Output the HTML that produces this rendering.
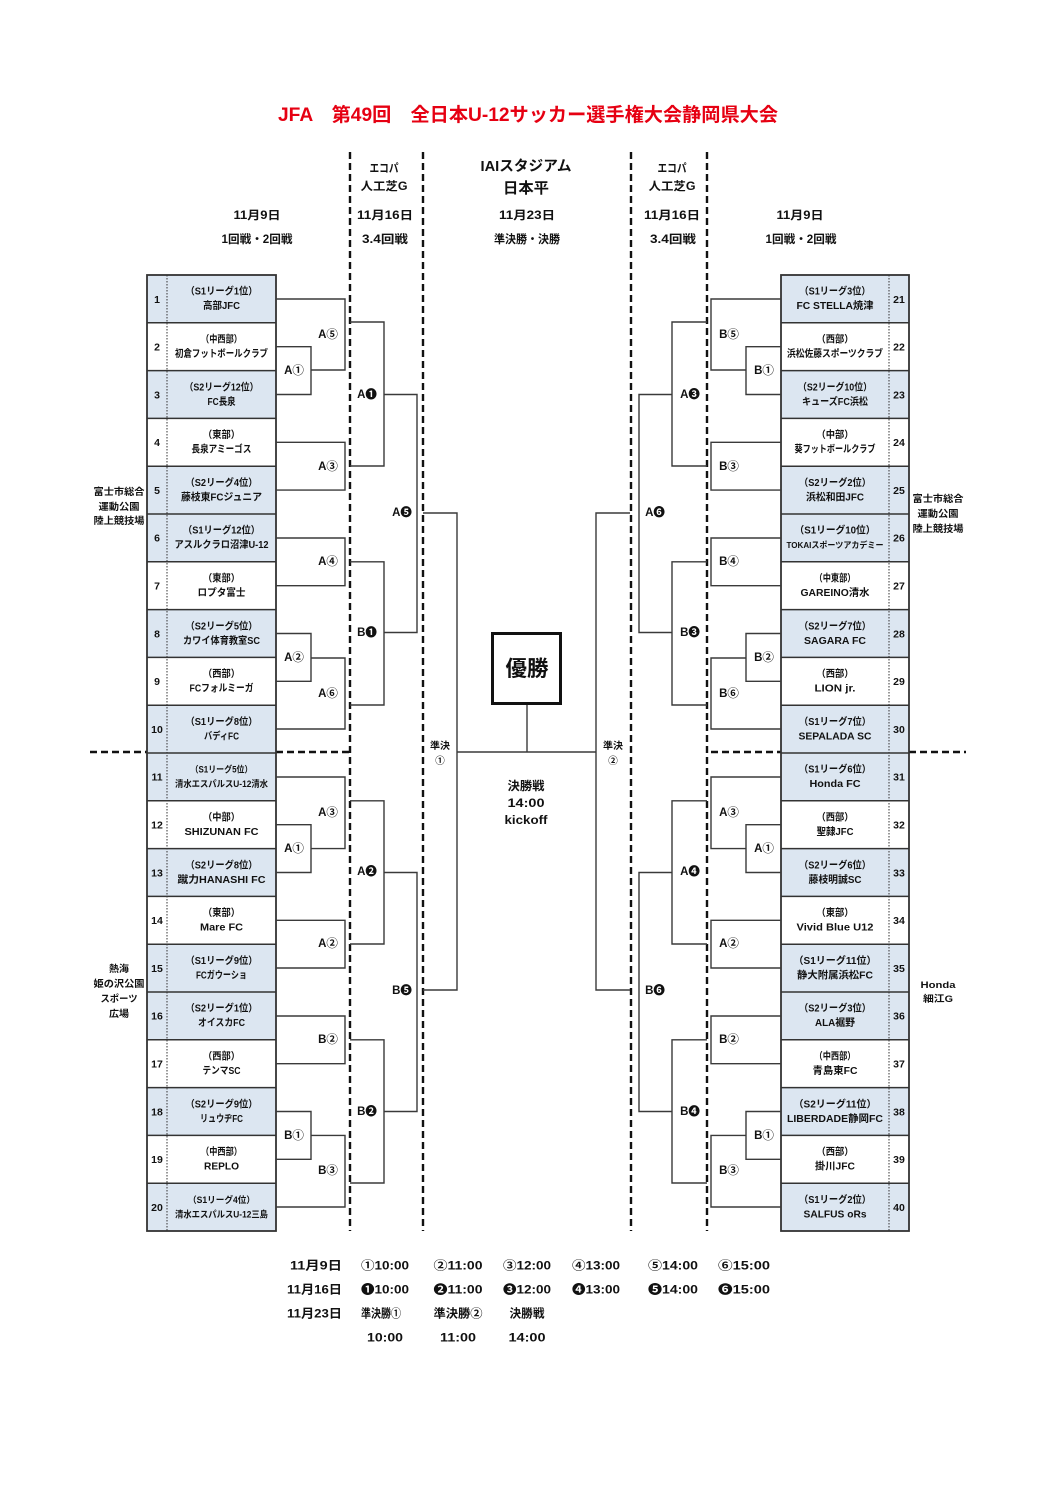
<!DOCTYPE html>
<html><head><meta charset="utf-8"><style>
html,body{margin:0;padding:0;background:#fff;}
svg{display:block;}
text{font-family:"Liberation Sans","Noto Sans CJK JP",sans-serif;font-weight:bold;fill:#111;}
.t{font-size:10px;text-anchor:middle;}
.n{font-size:10.5px;text-anchor:middle;}
.lb{font-size:11.5px;text-anchor:middle;}
.h{font-size:11.5px;text-anchor:middle;}
.v{font-size:9.5px;text-anchor:middle;}
.s{font-size:12px;text-anchor:middle;}
.br{fill:none;stroke:#3a3a3a;stroke-width:1.4;}
.dv{stroke:#111;stroke-width:2.4;stroke-dasharray:7,4;fill:none;}
</style></head><body>
<svg width="1058" height="1497" viewBox="0 0 1058 1497" xmlns="http://www.w3.org/2000/svg">
<rect width="1058" height="1497" fill="#fff"/>
<!-- Title -->
<text x="528" y="121" style="font-size:19px;fill:#e60012;text-anchor:middle" textLength="500" lengthAdjust="spacingAndGlyphs">JFA　第49回　全日本U-12サッカー選手権大会静岡県大会</text>

<!-- Header -->
<text class="h" x="257" y="219" textLength="47" lengthAdjust="spacingAndGlyphs">11月9日</text>
<text class="h" x="257" y="243" textLength="71" lengthAdjust="spacingAndGlyphs">1回戦・2回戦</text>
<text class="h" x="384" y="172" textLength="29" lengthAdjust="spacingAndGlyphs">エコパ</text>
<text class="h" x="384" y="190" textLength="47" lengthAdjust="spacingAndGlyphs">人工芝G</text>
<text class="h" x="385" y="219" textLength="56" lengthAdjust="spacingAndGlyphs">11月16日</text>
<text class="h" x="385" y="243" textLength="46" lengthAdjust="spacingAndGlyphs">3.4回戦</text>
<text x="526" y="171" style="font-size:14.5px;text-anchor:middle" textLength="91" lengthAdjust="spacingAndGlyphs">IAIスタジアム</text>
<text x="526" y="193" style="font-size:15px;text-anchor:middle" textLength="46" lengthAdjust="spacingAndGlyphs">日本平</text>
<text class="h" x="527" y="219" textLength="56" lengthAdjust="spacingAndGlyphs">11月23日</text>
<text class="h" x="527" y="243" textLength="66" lengthAdjust="spacingAndGlyphs">準決勝・決勝</text>
<text class="h" x="672" y="172" textLength="29" lengthAdjust="spacingAndGlyphs">エコパ</text>
<text class="h" x="672" y="190" textLength="47" lengthAdjust="spacingAndGlyphs">人工芝G</text>
<text class="h" x="672" y="219" textLength="56" lengthAdjust="spacingAndGlyphs">11月16日</text>
<text class="h" x="673" y="243" textLength="46" lengthAdjust="spacingAndGlyphs">3.4回戦</text>
<text class="h" x="800" y="219" textLength="47" lengthAdjust="spacingAndGlyphs">11月9日</text>
<text class="h" x="801" y="243" textLength="71" lengthAdjust="spacingAndGlyphs">1回戦・2回戦</text>

<!-- Dashed vertical lines -->
<line class="dv" x1="350" y1="152" x2="350" y2="1231"/>
<line class="dv" x1="423" y1="152" x2="423" y2="1231"/>
<line class="dv" x1="631" y1="152" x2="631" y2="1231"/>
<line class="dv" x1="707" y1="152" x2="707" y2="1231"/>
<!-- Dashed horizontal -->
<line class="dv" x1="90" y1="752" x2="147" y2="752"/>
<line class="dv" x1="276" y1="752" x2="350" y2="752"/>
<line class="dv" x1="711" y1="752" x2="781" y2="752"/>
<line class="dv" x1="909" y1="752" x2="966" y2="752"/>

<!-- Left table fills -->
<g fill="#dce6f1">
<rect x="147" y="275" width="129" height="47.8"/>
<rect x="147" y="370.6" width="129" height="47.8"/>
<rect x="147" y="466.2" width="129" height="95.6"/>
<rect x="147" y="609.6" width="129" height="47.8"/>
<rect x="147" y="705.2" width="129" height="95.6"/>
<rect x="147" y="848.6" width="129" height="47.8"/>
<rect x="147" y="944.2" width="129" height="95.6"/>
<rect x="147" y="1087.6" width="129" height="47.8"/>
<rect x="147" y="1183.2" width="129" height="47.8"/>
<!-- right -->
<rect x="781" y="275" width="128" height="47.8"/>
<rect x="781" y="370.6" width="128" height="47.8"/>
<rect x="781" y="466.2" width="128" height="95.6"/>
<rect x="781" y="609.6" width="128" height="47.8"/>
<rect x="781" y="705.2" width="128" height="95.6"/>
<rect x="781" y="848.6" width="128" height="47.8"/>
<rect x="781" y="944.2" width="128" height="95.6"/>
<rect x="781" y="1087.6" width="128" height="47.8"/>
<rect x="781" y="1183.2" width="128" height="47.8"/>
</g>
<!-- Table row lines -->
<g stroke="#333" stroke-width="1.5">
<line x1="147" y1="322.8" x2="276" y2="322.8"/><line x1="147" y1="370.6" x2="276" y2="370.6"/>
<line x1="147" y1="418.4" x2="276" y2="418.4"/><line x1="147" y1="466.2" x2="276" y2="466.2"/>
<line x1="147" y1="514" x2="276" y2="514"/><line x1="147" y1="561.8" x2="276" y2="561.8"/>
<line x1="147" y1="609.6" x2="276" y2="609.6"/><line x1="147" y1="657.4" x2="276" y2="657.4"/>
<line x1="147" y1="705.2" x2="276" y2="705.2"/><line x1="147" y1="753" x2="276" y2="753"/>
<line x1="147" y1="800.8" x2="276" y2="800.8"/><line x1="147" y1="848.6" x2="276" y2="848.6"/>
<line x1="147" y1="896.4" x2="276" y2="896.4"/><line x1="147" y1="944.2" x2="276" y2="944.2"/>
<line x1="147" y1="992" x2="276" y2="992"/><line x1="147" y1="1039.8" x2="276" y2="1039.8"/>
<line x1="147" y1="1087.6" x2="276" y2="1087.6"/><line x1="147" y1="1135.4" x2="276" y2="1135.4"/>
<line x1="147" y1="1183.2" x2="276" y2="1183.2"/>
<line x1="781" y1="322.8" x2="909" y2="322.8"/><line x1="781" y1="370.6" x2="909" y2="370.6"/>
<line x1="781" y1="418.4" x2="909" y2="418.4"/><line x1="781" y1="466.2" x2="909" y2="466.2"/>
<line x1="781" y1="514" x2="909" y2="514"/><line x1="781" y1="561.8" x2="909" y2="561.8"/>
<line x1="781" y1="609.6" x2="909" y2="609.6"/><line x1="781" y1="657.4" x2="909" y2="657.4"/>
<line x1="781" y1="705.2" x2="909" y2="705.2"/><line x1="781" y1="753" x2="909" y2="753"/>
<line x1="781" y1="800.8" x2="909" y2="800.8"/><line x1="781" y1="848.6" x2="909" y2="848.6"/>
<line x1="781" y1="896.4" x2="909" y2="896.4"/><line x1="781" y1="944.2" x2="909" y2="944.2"/>
<line x1="781" y1="992" x2="909" y2="992"/><line x1="781" y1="1039.8" x2="909" y2="1039.8"/>
<line x1="781" y1="1087.6" x2="909" y2="1087.6"/><line x1="781" y1="1135.4" x2="909" y2="1135.4"/>
<line x1="781" y1="1183.2" x2="909" y2="1183.2"/>
</g>
<g stroke="#333" stroke-width="1" stroke-dasharray="1.5,1.5">
<line x1="167" y1="275" x2="167" y2="1231"/>
<line x1="889" y1="275" x2="889" y2="1231"/>
</g>
<rect x="147" y="275" width="129" height="956" fill="none" stroke="#333" stroke-width="1.8"/>
<rect x="781" y="275" width="128" height="956" fill="none" stroke="#333" stroke-width="1.8"/>

<!-- Left numbers -->
<g class="n">
<text class="n" x="157" y="303">1</text><text class="n" x="157" y="350.5">2</text>
<text class="n" x="157" y="398.3">3</text><text class="n" x="157" y="446.1">4</text>
<text class="n" x="157" y="493.9">5</text><text class="n" x="157" y="541.7">6</text>
<text class="n" x="157" y="589.5">7</text><text class="n" x="157" y="637.3">8</text>
<text class="n" x="157" y="685.1">9</text><text class="n" x="157" y="732.9">10</text>
<text class="n" x="157" y="780.7">11</text><text class="n" x="157" y="828.5">12</text>
<text class="n" x="157" y="876.3">13</text><text class="n" x="157" y="924.1">14</text>
<text class="n" x="157" y="971.9">15</text><text class="n" x="157" y="1019.7">16</text>
<text class="n" x="157" y="1067.5">17</text><text class="n" x="157" y="1115.3">18</text>
<text class="n" x="157" y="1163.1">19</text><text class="n" x="157" y="1210.9">20</text>
<text class="n" x="899" y="303">21</text><text class="n" x="899" y="350.5">22</text>
<text class="n" x="899" y="398.3">23</text><text class="n" x="899" y="446.1">24</text>
<text class="n" x="899" y="493.9">25</text><text class="n" x="899" y="541.7">26</text>
<text class="n" x="899" y="589.5">27</text><text class="n" x="899" y="637.3">28</text>
<text class="n" x="899" y="685.1">29</text><text class="n" x="899" y="732.9">30</text>
<text class="n" x="899" y="780.7">31</text><text class="n" x="899" y="828.5">32</text>
<text class="n" x="899" y="876.3">33</text><text class="n" x="899" y="924.1">34</text>
<text class="n" x="899" y="971.9">35</text><text class="n" x="899" y="1019.7">36</text>
<text class="n" x="899" y="1067.5">37</text><text class="n" x="899" y="1115.3">38</text>
<text class="n" x="899" y="1163.1">39</text><text class="n" x="899" y="1210.9">40</text>
</g>

<!-- Left team names (center x 221.5) -->
<g>
<text class="t" x="221.5" y="294.7" textLength="72" lengthAdjust="spacingAndGlyphs">（S1リーグ1位）</text>
<text class="t" x="221.5" y="309.2" textLength="37" lengthAdjust="spacingAndGlyphs">高部JFC</text>
<text class="t" x="221.5" y="342.5" textLength="41" lengthAdjust="spacingAndGlyphs">（中西部）</text>
<text class="t" x="221.5" y="357" textLength="93" lengthAdjust="spacingAndGlyphs">初倉フットボールクラブ</text>
<text class="t" x="221.5" y="390.3" textLength="74" lengthAdjust="spacingAndGlyphs">（S2リーグ12位）</text>
<text class="t" x="221.5" y="404.8" textLength="28" lengthAdjust="spacingAndGlyphs">FC長泉</text>
<text class="t" x="221.5" y="438.1" textLength="37" lengthAdjust="spacingAndGlyphs">（東部）</text>
<text class="t" x="221.5" y="452.6" textLength="60" lengthAdjust="spacingAndGlyphs">長泉アミーゴス</text>
<text class="t" x="221.5" y="485.9" textLength="72" lengthAdjust="spacingAndGlyphs">（S2リーグ4位）</text>
<text class="t" x="221.5" y="500.4" textLength="81" lengthAdjust="spacingAndGlyphs">藤枝東FCジュニア</text>
<text class="t" x="221.5" y="533.7" textLength="77" lengthAdjust="spacingAndGlyphs">（S1リーグ12位）</text>
<text class="t" x="221.5" y="548.2" textLength="94" lengthAdjust="spacingAndGlyphs">アスルクラロ沼津U-12</text>
<text class="t" x="221.5" y="581.5" textLength="37" lengthAdjust="spacingAndGlyphs">（東部）</text>
<text class="t" x="221.5" y="596" textLength="48" lengthAdjust="spacingAndGlyphs">ロプタ富士</text>
<text class="t" x="221.5" y="629.3" textLength="72" lengthAdjust="spacingAndGlyphs">（S2リーグ5位）</text>
<text class="t" x="221.5" y="643.8" textLength="77" lengthAdjust="spacingAndGlyphs">カワイ体育教室SC</text>
<text class="t" x="221.5" y="677.1" textLength="37" lengthAdjust="spacingAndGlyphs">（西部）</text>
<text class="t" x="221.5" y="691.6" textLength="64" lengthAdjust="spacingAndGlyphs">FCフォルミーガ</text>
<text class="t" x="221.5" y="724.9" textLength="72" lengthAdjust="spacingAndGlyphs">（S1リーグ8位）</text>
<text class="t" x="221.5" y="739.4" textLength="35" lengthAdjust="spacingAndGlyphs">バディFC</text>
<text class="t" x="221.5" y="772.7" style="font-size:9px" textLength="62" lengthAdjust="spacingAndGlyphs">（S1リーグ5位）</text>
<text class="t" x="221.5" y="787.2" style="font-size:9px" textLength="93" lengthAdjust="spacingAndGlyphs">清水エスパルスU-12清水</text>
<text class="t" x="221.5" y="820.5" textLength="37" lengthAdjust="spacingAndGlyphs">（中部）</text>
<text class="t" x="221.5" y="835" textLength="74" lengthAdjust="spacingAndGlyphs">SHIZUNAN FC</text>
<text class="t" x="221.5" y="868.3" textLength="72" lengthAdjust="spacingAndGlyphs">（S2リーグ8位）</text>
<text class="t" x="221.5" y="882.8" textLength="88" lengthAdjust="spacingAndGlyphs">蹴力HANASHI FC</text>
<text class="t" x="221.5" y="916.1" textLength="37" lengthAdjust="spacingAndGlyphs">（東部）</text>
<text class="t" x="221.5" y="930.6" textLength="43" lengthAdjust="spacingAndGlyphs">Mare FC</text>
<text class="t" x="221.5" y="963.9" textLength="72" lengthAdjust="spacingAndGlyphs">（S1リーグ9位）</text>
<text class="t" x="221.5" y="978.4" textLength="51" lengthAdjust="spacingAndGlyphs">FCガウーショ</text>
<text class="t" x="221.5" y="1011.7" textLength="72" lengthAdjust="spacingAndGlyphs">（S2リーグ1位）</text>
<text class="t" x="221.5" y="1026.2" textLength="47" lengthAdjust="spacingAndGlyphs">オイスカFC</text>
<text class="t" x="221.5" y="1059.5" textLength="37" lengthAdjust="spacingAndGlyphs">（西部）</text>
<text class="t" x="221.5" y="1074" textLength="38" lengthAdjust="spacingAndGlyphs">テンマSC</text>
<text class="t" x="221.5" y="1107.3" textLength="72" lengthAdjust="spacingAndGlyphs">（S2リーグ9位）</text>
<text class="t" x="221.5" y="1121.8" textLength="43" lengthAdjust="spacingAndGlyphs">リュウヂFC</text>
<text class="t" x="221.5" y="1155.1" textLength="41" lengthAdjust="spacingAndGlyphs">（中西部）</text>
<text class="t" x="221.5" y="1169.6" textLength="35" lengthAdjust="spacingAndGlyphs">REPLO</text>
<text class="t" x="221.5" y="1202.9" style="font-size:9px" textLength="67" lengthAdjust="spacingAndGlyphs">（S1リーグ4位）</text>
<text class="t" x="221.5" y="1217.4" style="font-size:9px" textLength="93" lengthAdjust="spacingAndGlyphs">清水エスパルスU-12三島</text>
</g>

<!-- Right team names (center x 835) -->
<g>
<text class="t" x="835" y="294.7" textLength="71" lengthAdjust="spacingAndGlyphs">（S1リーグ3位）</text>
<text class="t" x="835" y="309.2" textLength="77" lengthAdjust="spacingAndGlyphs">FC STELLA焼津</text>
<text class="t" x="835" y="342.5" textLength="37" lengthAdjust="spacingAndGlyphs">（西部）</text>
<text class="t" x="835" y="357" textLength="96" lengthAdjust="spacingAndGlyphs">浜松佐藤スポーツクラブ</text>
<text class="t" x="835" y="390.3" textLength="74" lengthAdjust="spacingAndGlyphs">（S2リーグ10位）</text>
<text class="t" x="835" y="404.8" textLength="66" lengthAdjust="spacingAndGlyphs">キューズFC浜松</text>
<text class="t" x="835" y="438.1" textLength="37" lengthAdjust="spacingAndGlyphs">（中部）</text>
<text class="t" x="835" y="452.6" textLength="81" lengthAdjust="spacingAndGlyphs">葵フットボールクラブ</text>
<text class="t" x="835" y="485.9" textLength="72" lengthAdjust="spacingAndGlyphs">（S2リーグ2位）</text>
<text class="t" x="835" y="500.4" textLength="58" lengthAdjust="spacingAndGlyphs">浜松和田JFC</text>
<text class="t" x="835" y="533.7" textLength="81" lengthAdjust="spacingAndGlyphs">（S1リーグ10位）</text>
<text class="t" x="835" y="548.2" style="font-size:8.5px" textLength="97" lengthAdjust="spacingAndGlyphs">TOKAIスポーツアカデミー</text>
<text class="t" x="835" y="581.5" textLength="41" lengthAdjust="spacingAndGlyphs">（中東部）</text>
<text class="t" x="835" y="596" textLength="69" lengthAdjust="spacingAndGlyphs">GAREINO清水</text>
<text class="t" x="835" y="629.3" textLength="72" lengthAdjust="spacingAndGlyphs">（S2リーグ7位）</text>
<text class="t" x="835" y="643.8" textLength="62" lengthAdjust="spacingAndGlyphs">SAGARA FC</text>
<text class="t" x="835" y="677.1" textLength="37" lengthAdjust="spacingAndGlyphs">（西部）</text>
<text class="t" x="835" y="691.6" textLength="41" lengthAdjust="spacingAndGlyphs">LION jr.</text>
<text class="t" x="835" y="724.9" textLength="72" lengthAdjust="spacingAndGlyphs">（S1リーグ7位）</text>
<text class="t" x="835" y="739.4" textLength="73" lengthAdjust="spacingAndGlyphs">SEPALADA SC</text>
<text class="t" x="835" y="772.7" textLength="72" lengthAdjust="spacingAndGlyphs">（S1リーグ6位）</text>
<text class="t" x="835" y="787.2" textLength="51" lengthAdjust="spacingAndGlyphs">Honda FC</text>
<text class="t" x="835" y="820.5" textLength="37" lengthAdjust="spacingAndGlyphs">（西部）</text>
<text class="t" x="835" y="835" textLength="37" lengthAdjust="spacingAndGlyphs">聖隷JFC</text>
<text class="t" x="835" y="868.3" textLength="72" lengthAdjust="spacingAndGlyphs">（S2リーグ6位）</text>
<text class="t" x="835" y="882.8" textLength="53" lengthAdjust="spacingAndGlyphs">藤枝明誠SC</text>
<text class="t" x="835" y="916.1" textLength="37" lengthAdjust="spacingAndGlyphs">（東部）</text>
<text class="t" x="835" y="930.6" textLength="77" lengthAdjust="spacingAndGlyphs">Vivid Blue U12</text>
<text class="t" x="835" y="963.9" textLength="83" lengthAdjust="spacingAndGlyphs">（S1リーグ11位）</text>
<text class="t" x="835" y="978.4" textLength="76" lengthAdjust="spacingAndGlyphs">静大附属浜松FC</text>
<text class="t" x="835" y="1011.7" textLength="72" lengthAdjust="spacingAndGlyphs">（S2リーグ3位）</text>
<text class="t" x="835" y="1026.2" textLength="40" lengthAdjust="spacingAndGlyphs">ALA裾野</text>
<text class="t" x="835" y="1059.5" textLength="41" lengthAdjust="spacingAndGlyphs">（中西部）</text>
<text class="t" x="835" y="1074" textLength="45" lengthAdjust="spacingAndGlyphs">青島東FC</text>
<text class="t" x="835" y="1107.3" textLength="83" lengthAdjust="spacingAndGlyphs">（S2リーグ11位）</text>
<text class="t" x="835" y="1121.8" textLength="96" lengthAdjust="spacingAndGlyphs">LIBERDADE静岡FC</text>
<text class="t" x="835" y="1155.1" textLength="37" lengthAdjust="spacingAndGlyphs">（西部）</text>
<text class="t" x="835" y="1169.6" textLength="40" lengthAdjust="spacingAndGlyphs">掛川JFC</text>
<text class="t" x="835" y="1202.9" textLength="72" lengthAdjust="spacingAndGlyphs">（S1リーグ2位）</text>
<text class="t" x="835" y="1217.4" textLength="63" lengthAdjust="spacingAndGlyphs">SALFUS oRs</text>
</g>

<!-- Venue labels -->
<text class="v" x="119" y="495" textLength="51" lengthAdjust="spacingAndGlyphs">富士市総合</text>
<text class="v" x="119" y="510" textLength="41" lengthAdjust="spacingAndGlyphs">運動公園</text>
<text class="v" x="119" y="524" textLength="51" lengthAdjust="spacingAndGlyphs">陸上競技場</text>
<text class="v" x="119" y="972" textLength="20" lengthAdjust="spacingAndGlyphs">熱海</text>
<text class="v" x="119" y="987" textLength="51" lengthAdjust="spacingAndGlyphs">姫の沢公園</text>
<text class="v" x="119" y="1002" textLength="37" lengthAdjust="spacingAndGlyphs">スポーツ</text>
<text class="v" x="119" y="1017" textLength="20" lengthAdjust="spacingAndGlyphs">広場</text>
<text class="v" x="938" y="502" textLength="51" lengthAdjust="spacingAndGlyphs">富士市総合</text>
<text class="v" x="938" y="517" textLength="41" lengthAdjust="spacingAndGlyphs">運動公園</text>
<text class="v" x="938" y="532" textLength="51" lengthAdjust="spacingAndGlyphs">陸上競技場</text>
<text class="v" x="938" y="988" textLength="35" lengthAdjust="spacingAndGlyphs">Honda</text>
<text class="v" x="938" y="1002" textLength="30" lengthAdjust="spacingAndGlyphs">細江G</text>

<!-- Left brackets -->
<path class="br" d="M276 299 H345 V370 H311"/>
<path class="br" d="M276 346.7 H311 V394.5 H276"/>
<path class="br" d="M276 442.3 H345 V490.1 H276"/>
<path class="br" d="M350 322 H384 V466 H350"/>
<path class="br" d="M384 394.5 H417 V632.5 H384"/>
<path class="br" d="M276 538 H345 V585.7 H276"/>
<path class="br" d="M350 561.8 H384 V705 H350"/>
<path class="br" d="M276 633.5 H311 V681.3 H276"/>
<path class="br" d="M311 658 H345 V729 H276"/>
<path class="br" d="M423 513 H457 V990 H423"/>
<path class="br" d="M276 777 H345 V848.6 H311"/>
<path class="br" d="M276 824.7 H311 V872.5 H276"/>
<path class="br" d="M276 920.3 H345 V968 H276"/>
<path class="br" d="M350 800.8 H384 V944 H350"/>
<path class="br" d="M384 872.5 H417 V1111.5 H384"/>
<path class="br" d="M276 1016 H345 V1063.7 H276"/>
<path class="br" d="M350 1039.8 H384 V1183 H350"/>
<path class="br" d="M276 1111.5 H311 V1159.3 H276"/>
<path class="br" d="M311 1135.4 H345 V1207 H276"/>

<!-- Right brackets -->
<path class="br" d="M781 299 H711 V370 H746"/>
<path class="br" d="M781 346.7 H746 V394.5 H781"/>
<path class="br" d="M781 442.3 H711 V490.1 H781"/>
<path class="br" d="M707 322 H672 V466 H707"/>
<path class="br" d="M672 394.5 H639 V632.5 H672"/>
<path class="br" d="M781 538 H711 V585.7 H781"/>
<path class="br" d="M707 561.8 H672 V705 H707"/>
<path class="br" d="M781 633.5 H746 V681.3 H781"/>
<path class="br" d="M746 658 H711 V729 H781"/>
<path class="br" d="M630 513 H596 V990 H630"/>
<path class="br" d="M781 777 H711 V848.6 H746"/>
<path class="br" d="M781 824.7 H746 V872.5 H781"/>
<path class="br" d="M781 920.3 H711 V968 H781"/>
<path class="br" d="M707 800.8 H672 V944 H707"/>
<path class="br" d="M672 872.5 H639 V1111.5 H672"/>
<path class="br" d="M781 1016 H711 V1063.7 H781"/>
<path class="br" d="M707 1039.8 H672 V1183 H707"/>
<path class="br" d="M781 1111.5 H746 V1159.3 H781"/>
<path class="br" d="M746 1135.4 H711 V1207 H781"/>

<!-- Final -->
<path class="br" d="M457 752 H596"/>
<path class="br" d="M527 705 V752"/>
<rect x="492.5" y="633.5" width="68" height="70" fill="#fff" stroke="#111" stroke-width="3"/>
<text x="527" y="676" style="font-size:21.5px;text-anchor:middle" textLength="43" lengthAdjust="spacingAndGlyphs">優勝</text>
<text class="s" x="526" y="790" textLength="37" lengthAdjust="spacingAndGlyphs">決勝戦</text>
<text class="s" x="526" y="807" textLength="37" lengthAdjust="spacingAndGlyphs">14:00</text>
<text class="s" x="526" y="824" textLength="43" lengthAdjust="spacingAndGlyphs">kickoff</text>
<text class="v" x="440" y="749" textLength="20" lengthAdjust="spacingAndGlyphs">準決</text>
<text class="v" x="440" y="764">①</text>
<text class="v" x="613" y="749" textLength="20" lengthAdjust="spacingAndGlyphs">準決</text>
<text class="v" x="613" y="764">②</text>

<!-- Left labels -->
<g class="lb">
<text class="lb" x="328" y="338">A⑤</text>
<text class="lb" x="294" y="374">A①</text>
<text class="lb" x="328" y="470">A③</text>
<text class="lb" x="367" y="398">A❶</text>
<text class="lb" x="402" y="516">A❺</text>
<text class="lb" x="328" y="565">A④</text>
<text class="lb" x="367" y="636">B❶</text>
<text class="lb" x="294" y="661">A②</text>
<text class="lb" x="328" y="697">A⑥</text>
<text class="lb" x="328" y="816">A③</text>
<text class="lb" x="294" y="852">A①</text>
<text class="lb" x="367" y="875">A❷</text>
<text class="lb" x="328" y="947">A②</text>
<text class="lb" x="402" y="994">B❺</text>
<text class="lb" x="328" y="1043">B②</text>
<text class="lb" x="367" y="1115">B❷</text>
<text class="lb" x="294" y="1139">B①</text>
<text class="lb" x="328" y="1174">B③</text>
<!-- Right labels -->
<text class="lb" x="729" y="338">B⑤</text>
<text class="lb" x="764" y="374">B①</text>
<text class="lb" x="690" y="398">A❸</text>
<text class="lb" x="729" y="470">B③</text>
<text class="lb" x="655" y="516">A❻</text>
<text class="lb" x="729" y="565">B④</text>
<text class="lb" x="690" y="636">B❸</text>
<text class="lb" x="764" y="661">B②</text>
<text class="lb" x="729" y="697">B⑥</text>
<text class="lb" x="729" y="816">A③</text>
<text class="lb" x="764" y="852">A①</text>
<text class="lb" x="690" y="875">A❹</text>
<text class="lb" x="729" y="947">A②</text>
<text class="lb" x="655" y="994">B❻</text>
<text class="lb" x="729" y="1043">B②</text>
<text class="lb" x="690" y="1115">B❹</text>
<text class="lb" x="764" y="1139">B①</text>
<text class="lb" x="729" y="1174">B③</text>
</g>

<!-- Schedule -->
<g>
<text x="342" y="1269.5" style="font-size:12px;text-anchor:end" textLength="52" lengthAdjust="spacingAndGlyphs">11月9日</text>
<text x="342" y="1293.5" style="font-size:12px;text-anchor:end" textLength="55" lengthAdjust="spacingAndGlyphs">11月16日</text>
<text x="342" y="1317.5" style="font-size:12px;text-anchor:end" textLength="55" lengthAdjust="spacingAndGlyphs">11月23日</text>
<text class="s" x="385" y="1269.5" textLength="48" lengthAdjust="spacingAndGlyphs">①10:00</text>
<text class="s" x="458" y="1269.5" textLength="49" lengthAdjust="spacingAndGlyphs">②11:00</text>
<text class="s" x="527" y="1269.5" textLength="48" lengthAdjust="spacingAndGlyphs">③12:00</text>
<text class="s" x="596" y="1269.5" textLength="48" lengthAdjust="spacingAndGlyphs">④13:00</text>
<text class="s" x="673" y="1269.5" textLength="50" lengthAdjust="spacingAndGlyphs">⑤14:00</text>
<text class="s" x="744" y="1269.5" textLength="52" lengthAdjust="spacingAndGlyphs">⑥15:00</text>
<text class="s" x="385" y="1293.5" textLength="48" lengthAdjust="spacingAndGlyphs">❶10:00</text>
<text class="s" x="458" y="1293.5" textLength="49" lengthAdjust="spacingAndGlyphs">❷11:00</text>
<text class="s" x="527" y="1293.5" textLength="48" lengthAdjust="spacingAndGlyphs">❸12:00</text>
<text class="s" x="596" y="1293.5" textLength="48" lengthAdjust="spacingAndGlyphs">❹13:00</text>
<text class="s" x="673" y="1293.5" textLength="50" lengthAdjust="spacingAndGlyphs">❺14:00</text>
<text class="s" x="744" y="1293.5" textLength="52" lengthAdjust="spacingAndGlyphs">❻15:00</text>
<text class="s" x="381" y="1317.5" textLength="40" lengthAdjust="spacingAndGlyphs">準決勝①</text>
<text class="s" x="458" y="1317.5" textLength="49" lengthAdjust="spacingAndGlyphs">準決勝②</text>
<text class="s" x="527" y="1317.5" textLength="35" lengthAdjust="spacingAndGlyphs">決勝戦</text>
<text class="s" x="385" y="1341.5" textLength="36" lengthAdjust="spacingAndGlyphs">10:00</text>
<text class="s" x="458" y="1341.5" textLength="36" lengthAdjust="spacingAndGlyphs">11:00</text>
<text class="s" x="527" y="1341.5" textLength="37" lengthAdjust="spacingAndGlyphs">14:00</text>
</g>
</svg>
</body></html>
